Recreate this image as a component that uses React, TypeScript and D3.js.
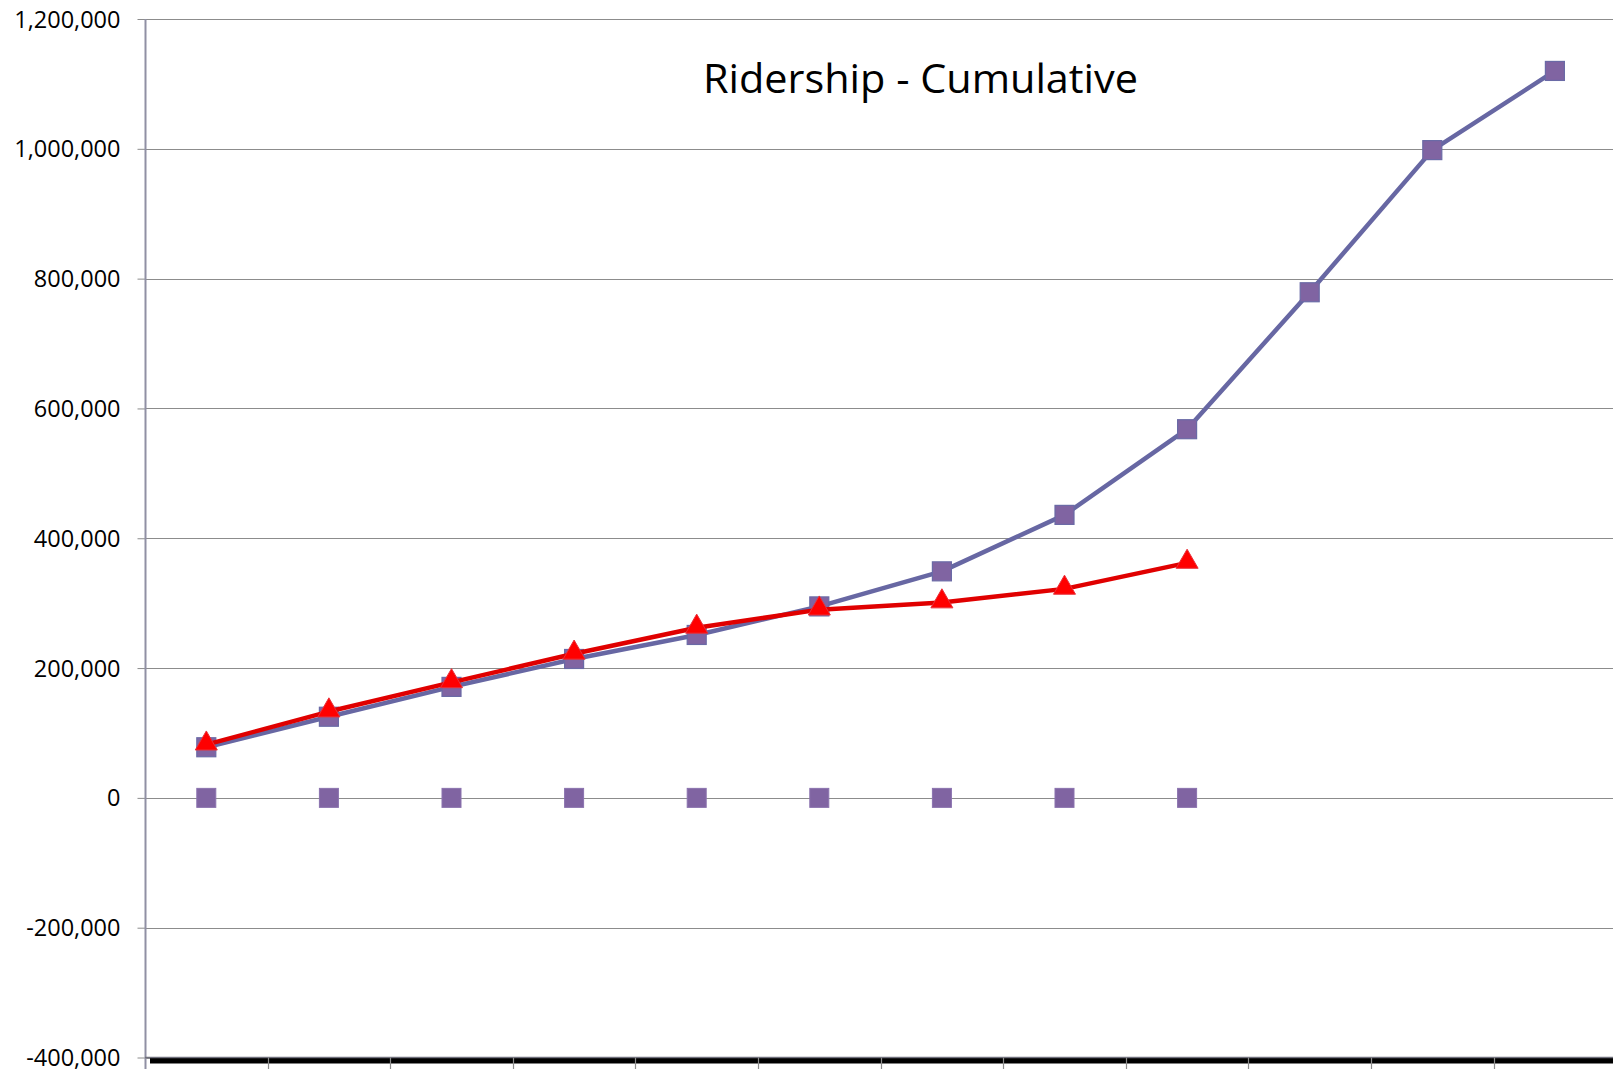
import * as d3 from "d3";
import { useEffect, useRef } from "react";

// Periods along the x axis (no labels are shown on the chart)
const categories = ["P1", "P2", "P3", "P4", "P5", "P6", "P7", "P8", "P9", "P10", "P11", "P12"];

// Cumulative ridership
const projected = [78000, 125000, 171000, 214000, 251000, 295000, 349000, 436000, 568000, 779000, 998000, 1120000];
const actual = [82000, 133000, 178000, 222000, 262000, 290000, 301000, 322000, 362000];
const baseline = [0, 0, 0, 0, 0, 0, 0, 0, 0];

const yTicks = [-400000, -200000, 0, 200000, 400000, 600000, 800000, 1000000, 1200000];
const title = "Ridership - Cumulative";

const App = () => {
  const ref = useRef(null);

  useEffect(() => {
    document.body.style.margin = "0";
    if (ref && ref.current) ref.current.innerHTML = "";

    const width = 1613;
    const height = 1069;
    const left = 145;
    const top = 19;
    const bottom = 1057.5;
    const step = 122.6;

    const x = d3.scaleBand()
      .domain(categories)
      .range([left, left + step * categories.length])
      .paddingInner(0)
      .paddingOuter(0);
    const y = d3.scaleLinear().domain([-400000, 1200000]).range([bottom, top]);
    const cx = (i) => x(categories[i]) + x.bandwidth() / 2;
    const fmt = d3.format(",");

    const svg = d3.select(ref.current)
      .attr("width", width)
      .attr("height", height)
      .attr("viewBox", [0, 0, width, height])
      .style("font-family", "'Open Sans', sans-serif");

    svg.append("rect").attr("width", width).attr("height", height).attr("fill", "#fff");

    // gridlines
    svg.append("g")
      .selectAll("line")
      .data(yTicks)
      .join("line")
        .attr("x1", left)
        .attr("x2", width)
        .attr("y1", d => Math.round(y(d)) + 0.5)
        .attr("y2", d => Math.round(y(d)) + 0.5)
        .attr("stroke", "#8c8c8c")
        .attr("stroke-width", 1);

    // y axis
    const yAxis = svg.append("g")
      .attr("transform", `translate(${left + 0.5},0)`)
      .call(d3.axisLeft(y)
        .tickValues(yTicks)
        .tickFormat(d => fmt(d).replace("\u2212", "-"))
        .tickSize(8)
        .tickPadding(17));
    yAxis.select(".domain").remove();
    yAxis.selectAll(".tick line").attr("stroke", "#8c8c8c");
    yAxis.selectAll(".tick text")
      .attr("fill", "#000")
      .attr("font-size", 23.5)
      .attr("font-family", "'Open Sans', sans-serif")
      .attr("dy", "0.34em");
    svg.append("line")
      .attr("x1", left + 0.5).attr("x2", left + 0.5)
      .attr("y1", top).attr("y2", height)
      .attr("stroke", "#9090a4").attr("stroke-width", 2);

    // x axis: thick black bar with ticks
    svg.append("rect")
      .attr("x", left + 5).attr("y", bottom)
      .attr("width", width - left - 5).attr("height", 6)
      .attr("fill", "#000");
    svg.append("line")
      .attr("x1", left).attr("x2", width)
      .attr("y1", bottom).attr("y2", bottom)
      .attr("stroke", "#70707c").attr("stroke-width", 1.5);
    svg.append("g")
      .selectAll("line")
      .data(categories.slice(1))
      .join("line")
        .attr("x1", d => Math.round(x(d)) + 0.5)
        .attr("x2", d => Math.round(x(d)) + 0.5)
        .attr("y1", bottom)
        .attr("y2", height)
        .attr("stroke", "#8c8c8c")
        .attr("stroke-width", 1.2);

    const line = d3.line().x((d, i) => cx(i)).y(d => y(d));

    // projected series
    svg.append("path")
      .datum(projected)
      .attr("d", line)
      .attr("fill", "none")
      .attr("stroke", "#6767a3")
      .attr("stroke-width", 4.5)
      .attr("stroke-linejoin", "round");
    svg.append("g")
      .selectAll("rect")
      .data(projected)
      .join("rect")
        .attr("x", (d, i) => cx(i) - 9.5)
        .attr("y", d => y(d) - 9.5)
        .attr("width", 19)
        .attr("height", 19)
        .attr("fill", "#8064a2")
        .attr("stroke", "#6a6aa6")
        .attr("stroke-width", 1.2);

    // baseline markers (no line)
    svg.append("g")
      .selectAll("rect")
      .data(baseline)
      .join("rect")
        .attr("x", (d, i) => cx(i) - 9.5)
        .attr("y", d => y(d) - 9.5)
        .attr("width", 19)
        .attr("height", 19)
        .attr("fill", "#8064a2")
        .attr("stroke", "#8a72ae")
        .attr("stroke-width", 1);

    // actual series
    svg.append("path")
      .datum(actual)
      .attr("d", line)
      .attr("fill", "none")
      .attr("stroke", "#e00000")
      .attr("stroke-width", 4.5)
      .attr("stroke-linejoin", "round");
    const tri = d3.symbol().type(d3.symbolTriangle).size(210);
    svg.append("g")
      .selectAll("path")
      .data(actual)
      .join("path")
        .attr("transform", (d, i) => `translate(${cx(i)},${y(d) - 1})`)
        .attr("d", tri)
        .attr("fill", "#ff0000")
        .attr("stroke", "#e8303a")
        .attr("stroke-width", 1);

    // title
    svg.append("text")
      .attr("x", 920.5)
      .attr("y", 93)
      .attr("text-anchor", "middle")
      .attr("font-size", 40)
      .attr("textLength", 435)
      .attr("lengthAdjust", "spacingAndGlyphs")
      .attr("fill", "#000")
      .text(title);
  }, []);

  return <svg ref={ref} style={{ display: "block" }} />;
};

export default App;
